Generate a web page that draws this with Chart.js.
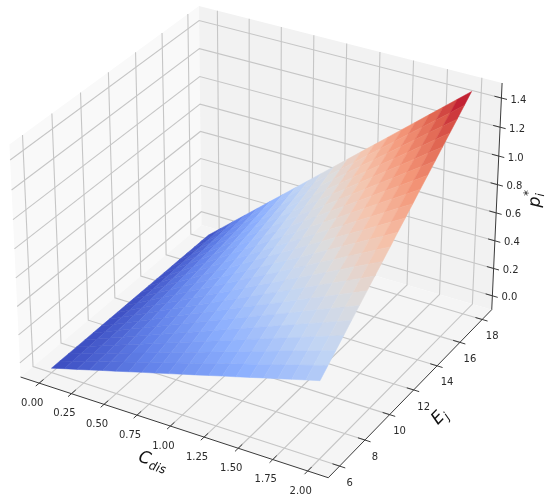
<!DOCTYPE html>
<html><head><meta charset="utf-8">
<style>html,body{margin:0;padding:0;background:#fff}canvas{display:block;filter:blur(0.35px)}</style>
<script src="https://cdn.jsdelivr.net/npm/chart.js@4"></script>
</head><body><canvas id="c" width="550" height="502"></canvas>
<script>
const cDis=[0,0.1,0.2,0.3,0.4,0.5,0.6,0.7,0.8,0.9,1,1.1,1.2,1.3,1.4,1.5,1.6,1.7,1.8,1.9,2];
const eJ=[6,6.6,7.2,7.8,8.4,9,9.6,10.2,10.8,11.4,12,12.6,13.2,13.8,14.4,15,15.6,16.2,16.8,17.4,18];
const pStar=[
[-.07,-.044,-.019,.007,.033,.058,.084,.11,.135,.161,.187,.212,.238,.264,.289,.315,.341,.366,.392,.418,.443],
[-.07,-.042,-.014,.015,.043,.071,.099,.128,.156,.184,.212,.241,.269,.297,.325,.353,.382,.41,.438,.466,.495],
[-.07,-.039,-.008,.022,.053,.084,.115,.146,.176,.207,.238,.269,.3,.33,.361,.392,.423,.454,.484,.515,.546],
[-.07,-.037,-.003,.03,.063,.097,.13,.164,.197,.23,.264,.297,.33,.364,.397,.431,.464,.497,.531,.564,.597],
[-.07,-.034,.002,.038,.074,.11,.146,.182,.217,.253,.289,.325,.361,.397,.433,.469,.505,.541,.577,.613,.649],
[-.07,-.032,.007,.046,.084,.123,.161,.2,.238,.277,.315,.354,.392,.431,.469,.508,.546,.585,.623,.662,.7],
[-.07,-.029,.012,.053,.094,.135,.176,.217,.259,.3,.341,.382,.423,.464,.505,.546,.587,.628,.669,.71,.751],
[-.07,-.026,.017,.061,.105,.148,.192,.235,.279,.323,.366,.41,.454,.497,.541,.584,.628,.672,.715,.759,.803],
[-.07,-.024,.022,.069,.115,.161,.207,.253,.3,.346,.392,.438,.484,.531,.577,.623,.669,.715,.762,.808,.854],
[-.07,-.021,.028,.076,.125,.174,.223,.271,.32,.369,.418,.466,.515,.564,.613,.662,.71,.759,.808,.857,.905],
[-.07,-.019,.033,.084,.135,.187,.238,.289,.341,.392,.443,.495,.546,.597,.649,.7,.751,.803,.854,.905,.957],
[-.07,-.016,.038,.092,.146,.2,.253,.307,.361,.415,.469,.523,.577,.631,.685,.739,.792,.846,.9,.954,1.008],
[-.07,-.014,.043,.099,.156,.212,.269,.325,.382,.438,.495,.551,.608,.664,.721,.777,.834,.89,.946,1.003,1.059],
[-.07,-.011,.048,.107,.166,.225,.284,.343,.402,.461,.52,.579,.638,.697,.756,.815,.874,.934,.993,1.052,1.111],
[-.07,-.008,.053,.115,.176,.238,.3,.361,.423,.484,.546,.608,.669,.731,.792,.854,.916,.977,1.039,1.1,1.162],
[-.07,-.006,.058,.123,.187,.251,.315,.379,.443,.508,.572,.636,.7,.764,.828,.893,.957,1.021,1.085,1.149,1.213],
[-.07,-.003,.063,.13,.197,.264,.33,.397,.464,.531,.597,.664,.731,.797,.864,.931,.998,1.064,1.131,1.198,1.265],
[-.07,-.001,.069,.138,.207,.277,.346,.415,.484,.554,.623,.692,.762,.831,.9,.97,1.039,1.108,1.177,1.247,1.316],
[-.07,.002,.074,.146,.217,.289,.361,.433,.505,.577,.649,.721,.792,.864,.936,1.008,1.08,1.152,1.224,1.296,1.367],
[-.07,.004,.079,.153,.228,.302,.377,.451,.525,.6,.674,.749,.823,.898,.972,1.046,1.121,1.195,1.27,1.344,1.419],
[-.07,.007,.084,.161,.238,.315,.392,.469,.546,.623,.7,.777,.854,.931,1.008,1.085,1.162,1.239,1.316,1.393,1.47]
];
const xTicks=[0,0.25,0.5,0.75,1,1.25,1.5,1.75,2];
const xTickLabels=['0.00','0.25','0.50','0.75','1.00','1.25','1.50','1.75','2.00'];
const yTicks=[6,8,10,12,14,16,18];
const yTickLabels=['6','8','10','12','14','16','18'];
const zTicks=[0,0.2,0.4,0.6,0.8,1,1.2,1.4];
const zTickLabels=['0.0','0.2','0.4','0.6','0.8','1.0','1.2','1.4'];

// axis limits (data range plus the 3D margins)
const xLim=[-0.146,2.146], yLim=[5.125,18.875], zLim=[-0.102,1.502];

// matplotlib-like view: elev 30, azim -60, dist 10
const el=30*Math.PI/180, az=-60*Math.PI/180, dist=10;
const aspect=[1.1905,1.1905,0.8929];
const R=aspect.map(a=>a/2);
const dir=[Math.cos(el)*Math.cos(az),Math.cos(el)*Math.sin(az),Math.sin(el)];
const eye=R.map((r,i)=>r+dist*dir[i]);
const cross=(a,b)=>[a[1]*b[2]-a[2]*b[1],a[2]*b[0]-a[0]*b[2],a[0]*b[1]-a[1]*b[0]];
const dot=(a,b)=>a[0]*b[0]+a[1]*b[1]+a[2]*b[2];
const unit=a=>{const n=Math.sqrt(dot(a,a));return a.map(v=>v/n)};
const w=unit(dir), u=unit(cross([0,0,1],w)), v=cross(w,u);
function view(x,y,z){
  const P=[(x-xLim[0])/(xLim[1]-xLim[0])*aspect[0],(y-yLim[0])/(yLim[1]-yLim[0])*aspect[1],(z-zLim[0])/(zLim[1]-zLim[0])*aspect[2]];
  const d=P.map((p,i)=>p-eye[i]);
  const ze=-dot(w,d);
  return {a:dot(u,d)/ze,b:dot(v,d)/ze,depth:ze};
}
// screen placement calibrated on the box corners
const boxAnchors=[
 [0,0,0,20,377],[1,0,0,328,478],[1,1,0,492,310],[0,0,1,10,143],[1,1,1,502,83],[0,1,1,199,7]
];
function fit(key,col){
  let n=0,s=0,t=0,ss=0,st=0;
  boxAnchors.forEach(A=>{const q=view(xLim[A[0]],yLim[A[1]],zLim[A[2]])[key];n++;s+=q;t+=A[col];ss+=q*q;st+=q*A[col];});
  const m=(n*st-s*t)/(n*ss-s*s);
  return [m,(t-m*s)/n];
}
const fa=fit('a',3), fb=fit('b',4);
function proj(x,y,z){const q=view(x,y,z);return {x:fa[0]*q.a+fa[1],y:fb[0]*q.b+fb[1],depth:q.depth};}

const stops=[[59,76,192],[98,130,234],[141,176,254],[192,212,245],[221,220,220],[245,196,173],[244,152,122],[222,96,77],[180,4,38]];
function coolwarm(t){
  t=Math.max(0,Math.min(1,t))*8;
  const i=Math.min(7,Math.floor(t)),f=t-i;
  const c=stops[i].map((s,k)=>Math.round(s+(stops[i+1][k]-s)*f));
  return 'rgb('+c.join(',')+')';
}

const layers=[];
function poly(pts,color,edge){layers.push({data:pts.map(p=>{const q=proj(p[0],p[1],p[2]);return {x:q.x,y:q.y}}),fill:'shape',backgroundColor:color,borderWidth:edge||0,borderColor:color});}
function line(pts,color,width){layers.push({data:pts.map(p=>{const q=proj(p[0],p[1],p[2]);return {x:q.x,y:q.y}}),fill:false,borderColor:color,borderWidth:width});}

const [x0,x1]=xLim,[y0,y1]=yLim,[z0,z1]=zLim;
poly([[x0,y0,z0],[x0,y1,z0],[x0,y1,z1],[x0,y0,z1],[x0,y0,z0]],'#f9f9f9');
poly([[x0,y1,z0],[x1,y1,z0],[x1,y1,z1],[x0,y1,z1],[x0,y1,z0]],'#f2f2f2');
poly([[x0,y0,z0],[x1,y0,z0],[x1,y1,z0],[x0,y1,z0],[x0,y0,z0]],'#f5f5f5');
const gridCol='#c6c6c6',gridW=1.1;
xTicks.forEach(t=>line([[t,y0,z0],[t,y1,z0],[t,y1,z1]],gridCol,gridW));
yTicks.forEach(t=>line([[x1,t,z0],[x0,t,z0],[x0,t,z1]],gridCol,gridW));
zTicks.forEach(t=>line([[x0,y0,t],[x0,y1,t],[x1,y1,t]],gridCol,gridW));

// surface cells, far to near
const cells=[];
let zMin=Infinity,zMax=-Infinity;
pStar.forEach(row=>row.forEach(z=>{zMin=Math.min(zMin,z);zMax=Math.max(zMax,z);}));
for(let r=0;r<eJ.length-1;r++)for(let c=0;c<cDis.length-1;c++){
  const zs=[pStar[r][c],pStar[r][c+1],pStar[r+1][c+1],pStar[r+1][c]];
  const avg=(zs[0]+zs[1]+zs[2]+zs[3])/4;
  const corners=[[cDis[c],eJ[r],zs[0]],[cDis[c+1],eJ[r],zs[1]],[cDis[c+1],eJ[r+1],zs[2]],[cDis[c],eJ[r+1],zs[3]],[cDis[c],eJ[r],zs[0]]];
  const mid=proj((cDis[c]+cDis[c+1])/2,(eJ[r]+eJ[r+1])/2,avg);
  cells.push({corners,avg,depth:mid.depth});
}
cells.sort((a,b)=>b.depth-a.depth);
cells.forEach(c=>poly(c.corners,coolwarm((c.avg-zMin)/(zMax-zMin)),0.5));

// axis lines and ticks
const axCol='#3a3a3a';
line([[x0,y0,z0],[x1,y0,z0]],axCol,1);
line([[x1,y0,z0],[x1,y1,z0]],axCol,1);
line([[x1,y1,z0],[x1,y1,z1]],axCol,1);
const dy=(y1-y0)*0.022,dx=(x1-x0)*0.022;
xTicks.forEach(t=>line([[t,y0-dy*0.8,z0],[t,y0+dy,z0]],axCol,1));
yTicks.forEach(t=>line([[x1-dx,t,z0],[x1+dx*0.8,t,z0]],axCol,1));
zTicks.forEach(t=>line([[x1-dx,y1,t],[x1+dx*0.8,y1,t]],axCol,1));

const datasets=layers.map((l,i)=>Object.assign(l,{showLine:true,pointRadius:0,tension:0,order:layers.length-i,clip:false}));

const textPlugin={id:'axisText',afterDraw(ch){
  const ctx=ch.ctx,sx=ch.scales.x,sy=ch.scales.y;
  ctx.save();
  ctx.fillStyle='#2b2b2b';
  ctx.font='10px "DejaVu Sans"';
  ctx.textAlign='center';ctx.textBaseline='middle';
  const put=(q,dxp,dyp,s)=>ctx.fillText(s,sx.getPixelForValue(q.x)+dxp,sy.getPixelForValue(q.y)+dyp);
  xTicks.forEach((t,i)=>put(proj(t,y0,z0),-7,20,xTickLabels[i]));
  yTicks.forEach((t,i)=>put(proj(x1,t,z0),10,17,yTickLabels[i]));
  zTicks.forEach((t,i)=>put(proj(x1,y1,t),17,2,zTickLabels[i]));
  ctx.textAlign='left';ctx.textBaseline='alphabetic';
  const label=(ox,oy,deg,parts)=>{
    ctx.save();ctx.translate(ox,oy);ctx.rotate(deg*Math.PI/180);
    parts.forEach(p=>{ctx.font='oblique '+p[3]+'px "DejaVu Sans"';ctx.fillText(p[0],p[1],p[2]);});
    ctx.restore();
  };
  ctx.fillStyle='#111';
  label(137.4,460.9,18,[['C',0,0,17],['dis',12.5,4,12]]);
  label(437.7,425.2,-46,[['E',0,0,17],['j',11,4,12]]);
  label(539.5,207.6,-87.5,[['p',0,0,17],['i',11,4,12],['*',11,-8,12]]);
  ctx.restore();
}};

new Chart(document.getElementById('c').getContext('2d'),{
  type:'scatter',
  data:{datasets},
  options:{responsive:false,animation:false,layout:{padding:0},
    plugins:{legend:{display:false},tooltip:{enabled:false},title:{display:false}},
    scales:{x:{type:'linear',min:0,max:550,display:false},y:{type:'linear',min:0,max:502,reverse:true,display:false}}},
  plugins:[textPlugin]
});
</script></body></html>
